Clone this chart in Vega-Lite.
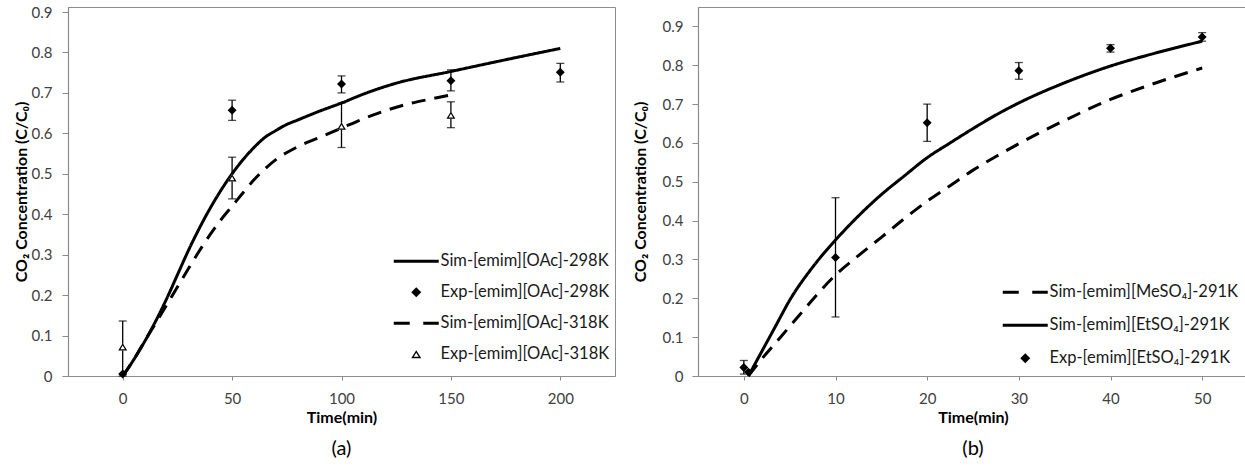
{
  "$schema": "https://vega.github.io/schema/vega-lite/v6.json",
  "padding": {"left": 12, "top": 4, "right": 0, "bottom": 0},
  "background": "white",
  "spacing": 15,
  "config": {
    "font": "Lato",
    "view": {"stroke": "#8c8c8c", "strokeWidth": 1},
    "axis": {"grid": false, "labelFont": "Lato", "labelFontSize": 15, "labelColor": "#404040", "titleFont": "Lato", "titleFontSize": 16, "titleFontWeight": "bold", "titleColor": "#000000", "domainColor": "#8c8c8c", "tickColor": "#8c8c8c", "domainWidth": 1.2, "tickWidth": 1},
    "axisX": {"tickSize": 4, "labelPadding": 11, "titlePadding": 3, "labelAngle": 0, "labelFlush": false},
    "axisY": {"tickSize": 6, "labelPadding": 10, "titlePadding": 2},
    "title": {"font": "Lato", "fontSize": 20, "fontWeight": "normal", "color": "#000000"},
    "legend": {"padding": 0, "symbolSize": 100, "labelFont": "Lato", "labelFontSize": 16.5, "labelColor": "#1a1a1a", "labelLimit": 400, "symbolOpacity": 1, "symbolStrokeWidth": 0}
  },
  "datasets": {
    "a": [
      {"kind": "sim", "series": "Sim-[emim][OAc]-298K", "t": 0, "c": 0},
      {"kind": "sim", "series": "Sim-[emim][OAc]-298K", "t": 5, "c": 0.04},
      {"kind": "sim", "series": "Sim-[emim][OAc]-298K", "t": 10, "c": 0.085},
      {"kind": "sim", "series": "Sim-[emim][OAc]-298K", "t": 15, "c": 0.135},
      {"kind": "sim", "series": "Sim-[emim][OAc]-298K", "t": 20, "c": 0.19},
      {"kind": "sim", "series": "Sim-[emim][OAc]-298K", "t": 25, "c": 0.25},
      {"kind": "sim", "series": "Sim-[emim][OAc]-298K", "t": 30, "c": 0.31},
      {"kind": "sim", "series": "Sim-[emim][OAc]-298K", "t": 35, "c": 0.365},
      {"kind": "sim", "series": "Sim-[emim][OAc]-298K", "t": 40, "c": 0.415},
      {"kind": "sim", "series": "Sim-[emim][OAc]-298K", "t": 45, "c": 0.46},
      {"kind": "sim", "series": "Sim-[emim][OAc]-298K", "t": 50, "c": 0.5},
      {"kind": "sim", "series": "Sim-[emim][OAc]-298K", "t": 55, "c": 0.535},
      {"kind": "sim", "series": "Sim-[emim][OAc]-298K", "t": 60, "c": 0.565},
      {"kind": "sim", "series": "Sim-[emim][OAc]-298K", "t": 65, "c": 0.59},
      {"kind": "sim", "series": "Sim-[emim][OAc]-298K", "t": 70, "c": 0.607},
      {"kind": "sim", "series": "Sim-[emim][OAc]-298K", "t": 75, "c": 0.622},
      {"kind": "sim", "series": "Sim-[emim][OAc]-298K", "t": 80, "c": 0.633},
      {"kind": "sim", "series": "Sim-[emim][OAc]-298K", "t": 90, "c": 0.655},
      {"kind": "sim", "series": "Sim-[emim][OAc]-298K", "t": 100, "c": 0.675},
      {"kind": "sim", "series": "Sim-[emim][OAc]-298K", "t": 110, "c": 0.697},
      {"kind": "sim", "series": "Sim-[emim][OAc]-298K", "t": 125, "c": 0.724},
      {"kind": "sim", "series": "Sim-[emim][OAc]-298K", "t": 150, "c": 0.753},
      {"kind": "sim", "series": "Sim-[emim][OAc]-298K", "t": 175, "c": 0.782},
      {"kind": "sim", "series": "Sim-[emim][OAc]-298K", "t": 200, "c": 0.81},
      {"kind": "sim", "series": "Sim-[emim][OAc]-318K", "t": 0, "c": 0},
      {"kind": "sim", "series": "Sim-[emim][OAc]-318K", "t": 5, "c": 0.04},
      {"kind": "sim", "series": "Sim-[emim][OAc]-318K", "t": 10, "c": 0.086},
      {"kind": "sim", "series": "Sim-[emim][OAc]-318K", "t": 15, "c": 0.13},
      {"kind": "sim", "series": "Sim-[emim][OAc]-318K", "t": 20, "c": 0.175},
      {"kind": "sim", "series": "Sim-[emim][OAc]-318K", "t": 25, "c": 0.22},
      {"kind": "sim", "series": "Sim-[emim][OAc]-318K", "t": 30, "c": 0.265},
      {"kind": "sim", "series": "Sim-[emim][OAc]-318K", "t": 35, "c": 0.309},
      {"kind": "sim", "series": "Sim-[emim][OAc]-318K", "t": 40, "c": 0.35},
      {"kind": "sim", "series": "Sim-[emim][OAc]-318K", "t": 45, "c": 0.387},
      {"kind": "sim", "series": "Sim-[emim][OAc]-318K", "t": 50, "c": 0.42},
      {"kind": "sim", "series": "Sim-[emim][OAc]-318K", "t": 55, "c": 0.453},
      {"kind": "sim", "series": "Sim-[emim][OAc]-318K", "t": 60, "c": 0.485},
      {"kind": "sim", "series": "Sim-[emim][OAc]-318K", "t": 65, "c": 0.512},
      {"kind": "sim", "series": "Sim-[emim][OAc]-318K", "t": 70, "c": 0.535},
      {"kind": "sim", "series": "Sim-[emim][OAc]-318K", "t": 80, "c": 0.567},
      {"kind": "sim", "series": "Sim-[emim][OAc]-318K", "t": 90, "c": 0.59},
      {"kind": "sim", "series": "Sim-[emim][OAc]-318K", "t": 100, "c": 0.613},
      {"kind": "sim", "series": "Sim-[emim][OAc]-318K", "t": 110, "c": 0.636},
      {"kind": "sim", "series": "Sim-[emim][OAc]-318K", "t": 120, "c": 0.656},
      {"kind": "sim", "series": "Sim-[emim][OAc]-318K", "t": 130, "c": 0.672},
      {"kind": "sim", "series": "Sim-[emim][OAc]-318K", "t": 140, "c": 0.684},
      {"kind": "sim", "series": "Sim-[emim][OAc]-318K", "t": 150, "c": 0.695},
      {"kind": "exp", "series": "Exp-[emim][OAc]-298K", "t": 0, "c": 0.005, "lo": null, "hi": null},
      {"kind": "exp", "series": "Exp-[emim][OAc]-298K", "t": 50, "c": 0.657, "lo": 0.632, "hi": 0.682},
      {"kind": "exp", "series": "Exp-[emim][OAc]-298K", "t": 100, "c": 0.722, "lo": 0.7, "hi": 0.742},
      {"kind": "exp", "series": "Exp-[emim][OAc]-298K", "t": 150, "c": 0.73, "lo": 0.705, "hi": 0.757},
      {"kind": "exp", "series": "Exp-[emim][OAc]-298K", "t": 200, "c": 0.751, "lo": 0.727, "hi": 0.773},
      {"kind": "exp", "series": "Exp-[emim][OAc]-318K", "t": 0, "c": 0.072, "lo": 0, "hi": 0.136},
      {"kind": "exp", "series": "Exp-[emim][OAc]-318K", "t": 50, "c": 0.49, "lo": 0.438, "hi": 0.541},
      {"kind": "exp", "series": "Exp-[emim][OAc]-318K", "t": 100, "c": 0.618, "lo": 0.565, "hi": 0.675},
      {"kind": "exp", "series": "Exp-[emim][OAc]-318K", "t": 150, "c": 0.645, "lo": 0.614, "hi": 0.678}
    ],
    "b": [
      {"kind": "sim", "series": "Sim-[emim][MeSO₄]-291K", "t": 0.5, "c": 0},
      {"kind": "sim", "series": "Sim-[emim][MeSO₄]-291K", "t": 2, "c": 0.045},
      {"kind": "sim", "series": "Sim-[emim][MeSO₄]-291K", "t": 4, "c": 0.1},
      {"kind": "sim", "series": "Sim-[emim][MeSO₄]-291K", "t": 6, "c": 0.155},
      {"kind": "sim", "series": "Sim-[emim][MeSO₄]-291K", "t": 8, "c": 0.21},
      {"kind": "sim", "series": "Sim-[emim][MeSO₄]-291K", "t": 10, "c": 0.26},
      {"kind": "sim", "series": "Sim-[emim][MeSO₄]-291K", "t": 12.5, "c": 0.31},
      {"kind": "sim", "series": "Sim-[emim][MeSO₄]-291K", "t": 15, "c": 0.357},
      {"kind": "sim", "series": "Sim-[emim][MeSO₄]-291K", "t": 17.5, "c": 0.405},
      {"kind": "sim", "series": "Sim-[emim][MeSO₄]-291K", "t": 20, "c": 0.45},
      {"kind": "sim", "series": "Sim-[emim][MeSO₄]-291K", "t": 22.5, "c": 0.49},
      {"kind": "sim", "series": "Sim-[emim][MeSO₄]-291K", "t": 25, "c": 0.53},
      {"kind": "sim", "series": "Sim-[emim][MeSO₄]-291K", "t": 27.5, "c": 0.565},
      {"kind": "sim", "series": "Sim-[emim][MeSO₄]-291K", "t": 30, "c": 0.598},
      {"kind": "sim", "series": "Sim-[emim][MeSO₄]-291K", "t": 35, "c": 0.658},
      {"kind": "sim", "series": "Sim-[emim][MeSO₄]-291K", "t": 40, "c": 0.712},
      {"kind": "sim", "series": "Sim-[emim][MeSO₄]-291K", "t": 45, "c": 0.755},
      {"kind": "sim", "series": "Sim-[emim][MeSO₄]-291K", "t": 50, "c": 0.793},
      {"kind": "sim", "series": "Sim-[emim][EtSO₄]-291K", "t": 0.5, "c": 0},
      {"kind": "sim", "series": "Sim-[emim][EtSO₄]-291K", "t": 2, "c": 0.065},
      {"kind": "sim", "series": "Sim-[emim][EtSO₄]-291K", "t": 3.5, "c": 0.13},
      {"kind": "sim", "series": "Sim-[emim][EtSO₄]-291K", "t": 5, "c": 0.195},
      {"kind": "sim", "series": "Sim-[emim][EtSO₄]-291K", "t": 7.5, "c": 0.28},
      {"kind": "sim", "series": "Sim-[emim][EtSO₄]-291K", "t": 10, "c": 0.35},
      {"kind": "sim", "series": "Sim-[emim][EtSO₄]-291K", "t": 12.5, "c": 0.412},
      {"kind": "sim", "series": "Sim-[emim][EtSO₄]-291K", "t": 15, "c": 0.467},
      {"kind": "sim", "series": "Sim-[emim][EtSO₄]-291K", "t": 17.5, "c": 0.515},
      {"kind": "sim", "series": "Sim-[emim][EtSO₄]-291K", "t": 20, "c": 0.562},
      {"kind": "sim", "series": "Sim-[emim][EtSO₄]-291K", "t": 22.5, "c": 0.6},
      {"kind": "sim", "series": "Sim-[emim][EtSO₄]-291K", "t": 25, "c": 0.637},
      {"kind": "sim", "series": "Sim-[emim][EtSO₄]-291K", "t": 27.5, "c": 0.672},
      {"kind": "sim", "series": "Sim-[emim][EtSO₄]-291K", "t": 30, "c": 0.703},
      {"kind": "sim", "series": "Sim-[emim][EtSO₄]-291K", "t": 35, "c": 0.755},
      {"kind": "sim", "series": "Sim-[emim][EtSO₄]-291K", "t": 40, "c": 0.798},
      {"kind": "sim", "series": "Sim-[emim][EtSO₄]-291K", "t": 45, "c": 0.832},
      {"kind": "sim", "series": "Sim-[emim][EtSO₄]-291K", "t": 50, "c": 0.862},
      {"kind": "exp", "series": "Exp-[emim][EtSO₄]-291K", "t": 0, "c": 0.022, "lo": 0.005, "hi": 0.04},
      {"kind": "exp", "series": "Exp-[emim][EtSO₄]-291K", "t": 0.5, "c": 0.01, "lo": null, "hi": null},
      {"kind": "exp", "series": "Exp-[emim][EtSO₄]-291K", "t": 10, "c": 0.305, "lo": 0.152, "hi": 0.459},
      {"kind": "exp", "series": "Exp-[emim][EtSO₄]-291K", "t": 20, "c": 0.652, "lo": 0.604, "hi": 0.7},
      {"kind": "exp", "series": "Exp-[emim][EtSO₄]-291K", "t": 30, "c": 0.786, "lo": 0.764, "hi": 0.807},
      {"kind": "exp", "series": "Exp-[emim][EtSO₄]-291K", "t": 40, "c": 0.844, "lo": 0.834, "hi": 0.853},
      {"kind": "exp", "series": "Exp-[emim][EtSO₄]-291K", "t": 50, "c": 0.873, "lo": 0.862, "hi": 0.884}
    ]
  },
  "resolve": {
    "scale": {"shape": "independent", "strokeDash": "independent"},
    "legend": {"shape": "independent", "strokeDash": "independent"}
  },
  "hconcat": [
    {
      "width": 547,
      "height": 369,
      "title": {"text": "(a)", "orient": "bottom", "offset": 14},
      "data": {"name": "a"},
      "layer": [
        {
          "transform": [{"filter": "datum.kind === 'sim'"}],
          "mark": {"type": "line", "color": "black", "strokeWidth": 3, "interpolate": "monotone"},
          "encoding": {
            "x": {"field": "t", "type": "quantitative", "title": "Time(min)", "scale": {"domain": [-25, 225], "nice": false, "zero": false}, "axis": {"values": [0, 50, 100, 150, 200]}},
            "y": {"field": "c", "type": "quantitative", "title": "CO₂ Concentration (C/C₀)", "scale": {"domain": [0, 0.9124], "nice": false}, "axis": {"values": [0, 0.1, 0.2, 0.3, 0.4, 0.5, 0.6, 0.7, 0.8, 0.9], "format": "~g"}},
            "strokeDash": {"field": "series", "type": "nominal", "scale": {"type": "ordinal", "domain": ["Sim-[emim][OAc]-298K", "Sim-[emim][OAc]-318K"], "range": [[1, 0], [14, 9]]}, "legend": null}
          }
        },
        {
          "transform": [{"filter": "datum.kind === 'exp' && isValid(datum.lo)"}],
          "mark": {"type": "errorbar", "color": "black", "thickness": 1.3, "ticks": {"size": 8, "thickness": 1.3, "color": "black"}, "rule": {"strokeWidth": 1.3, "color": "black"}},
          "encoding": {
            "x": {"field": "t", "type": "quantitative", "title": "Time(min)"},
            "y": {"field": "lo", "type": "quantitative", "title": "CO₂ Concentration (C/C₀)"},
            "y2": {"field": "hi"}
          }
        },
        {
          "transform": [{"filter": "datum.series === 'Exp-[emim][OAc]-318K'"}],
          "mark": {"type": "point", "filled": true, "size": 80, "shape": "M0,-0.8L1,0.8L-1,0.8Z", "fill": "white", "strokeWidth": 0, "opacity": 1},
          "encoding": {
            "x": {"field": "t", "type": "quantitative", "title": "Time(min)"},
            "y": {"field": "c", "type": "quantitative", "title": "CO₂ Concentration (C/C₀)"}
          }
        },
        {
          "transform": [{"filter": "datum.kind === 'exp'"}],
          "mark": {"type": "point", "filled": true, "size": 80, "fill": "black", "strokeWidth": 0, "opacity": 1},
          "encoding": {
            "x": {"field": "t", "type": "quantitative", "title": "Time(min)"},
            "y": {"field": "c", "type": "quantitative", "title": "CO₂ Concentration (C/C₀)"},
            "shape": {
              "field": "series", "type": "nominal",
              "scale": {"type": "ordinal", "domain": ["Sim-[emim][OAc]-298K", "Exp-[emim][OAc]-298K", "Sim-[emim][OAc]-318K", "Exp-[emim][OAc]-318K"], "range": ["M-4.5,-0.3H4.5V0.3H-4.5Z", "diamond", "M-4.5,-0.3H-1.3V0.3H-4.5Z M1.4,-0.3H4.5V0.3H1.4Z", "M0,-0.8L1,0.8L-1,0.8Z M0,-0.3L-0.5,0.52L0.5,0.52Z"]},
              "legend": {"title": null, "orient": "none", "legendX": 340, "legendY": 246, "labelOffset": 16, "rowPadding": 14}
            }
          }
        }
      ]
    },
    {
      "width": 550,
      "height": 369,
      "title": {"text": "(b)", "orient": "bottom", "offset": 14},
      "data": {"name": "b"},
      "layer": [
        {
          "transform": [{"filter": "datum.kind === 'sim'"}],
          "mark": {"type": "line", "color": "black", "strokeWidth": 3, "interpolate": "monotone"},
          "encoding": {
            "x": {"field": "t", "type": "quantitative", "title": "Time(min)", "scale": {"domain": [-5, 55], "nice": false, "zero": false}, "axis": {"values": [0, 10, 20, 30, 40, 50]}},
            "y": {"field": "c", "type": "quantitative", "title": "CO₂ Concentration (C/C₀)", "scale": {"domain": [0, 0.95], "nice": false}, "axis": {"values": [0, 0.1, 0.2, 0.3, 0.4, 0.5, 0.6, 0.7, 0.8, 0.9], "format": "~g", "labelPadding": 9, "titlePadding": 14}},
            "strokeDash": {"field": "series", "type": "nominal", "scale": {"type": "ordinal", "domain": ["Sim-[emim][MeSO₄]-291K", "Sim-[emim][EtSO₄]-291K"], "range": [[14, 9], [1, 0]]}, "legend": null}
          }
        },
        {
          "transform": [{"filter": "datum.kind === 'exp' && isValid(datum.lo)"}],
          "mark": {"type": "errorbar", "color": "black", "thickness": 1.3, "ticks": {"size": 8, "thickness": 1.3, "color": "black"}, "rule": {"strokeWidth": 1.3, "color": "black"}},
          "encoding": {
            "x": {"field": "t", "type": "quantitative", "title": "Time(min)"},
            "y": {"field": "lo", "type": "quantitative", "title": "CO₂ Concentration (C/C₀)"},
            "y2": {"field": "hi"}
          }
        },
        {
          "transform": [{"filter": "datum.kind === 'exp'"}],
          "mark": {"type": "point", "filled": true, "size": 80, "fill": "black", "strokeWidth": 0, "opacity": 1},
          "encoding": {
            "x": {"field": "t", "type": "quantitative", "title": "Time(min)"},
            "y": {"field": "c", "type": "quantitative", "title": "CO₂ Concentration (C/C₀)"},
            "shape": {
              "field": "series", "type": "nominal",
              "scale": {"type": "ordinal", "domain": ["Sim-[emim][MeSO₄]-291K", "Sim-[emim][EtSO₄]-291K", "Exp-[emim][EtSO₄]-291K"], "range": ["M-4.5,-0.3H-1.3V0.3H-4.5Z M1.4,-0.3H4.5V0.3H1.4Z", "M-4.5,-0.3H4.5V0.3H-4.5Z", "diamond"]},
              "legend": {"title": null, "orient": "none", "legendX": 319, "legendY": 277, "labelOffset": 16, "rowPadding": 16}
            }
          }
        }
      ]
    }
  ]
}
